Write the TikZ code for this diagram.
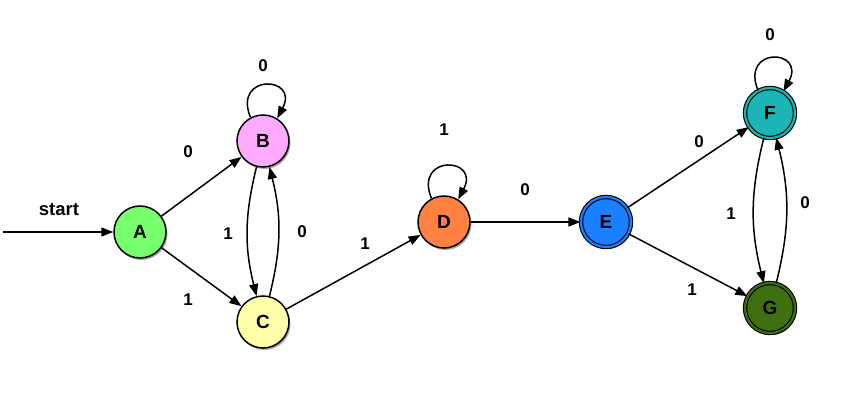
\documentclass[tikz,border=0pt]{standalone}
\usepackage{fontspec}
\setmainfont{Liberation Sans}
\usetikzlibrary{arrows.meta,shadows}
\definecolor{cA}{RGB}{119,255,110}
\definecolor{cB}{RGB}{255,170,255}
\definecolor{cC}{RGB}{255,255,170}
\definecolor{cD}{RGB}{255,128,64}
\definecolor{cE}{RGB}{27,128,255}
\definecolor{cF}{RGB}{27,181,181}
\definecolor{cG}{RGB}{63,111,15}
\begin{document}
\begin{tikzpicture}[x=1pt,y=1pt,
  state/.style={circle,draw=black,line width=1.5pt,minimum size=52pt,inner sep=0pt,
    font=\fontsize{19}{21}\selectfont\bfseries,
    drop shadow={shadow xshift=1.5pt,shadow yshift=-2pt,opacity=0.35,fill=black}},
  accept/.style={state,fill=#1,double=#1,double distance=2.2pt,line width=1.1pt,minimum size=50pt},
  edge/.style={-{Triangle[length=12pt,width=9pt]},line width=1.5pt},
  lbl/.style={font=\fontsize{17}{19}\selectfont\bfseries}]
\useasboundingbox (0,0) rectangle (864,410);
\node[state,fill=cA] (A) at (140,178) {A};
\node[state,fill=cB] (B) at (263,269) {B};
\node[state,fill=cC] (C) at (263,88) {C};
\node[state,fill=cD] (D) at (444,188) {D};
\node[accept=cE] (E) at (606,188) {E};
\node[accept=cF] (F) at (770,297) {F};
\node[accept=cG] (G) at (770,102) {G};
\coordinate (S) at (3,178);
\draw[edge] (S) -- (A);
\draw[edge] (A) -- (B);
\draw[edge] (A) -- (C);
\draw[edge] (B) to[bend right=14] (C);
\draw[edge] (C) to[bend right=14] (B);
\draw[edge] (C) -- (D);
\draw[edge] (D) -- (E);
\draw[edge] (E) -- (F);
\draw[edge] (E) -- (G);
\draw[edge] (F) to[bend right=14] (G);
\draw[edge] (G) to[bend right=14] (F);
\draw[edge] (B.118) .. controls +(112:48) and +(62:48) .. (B.58);
\draw[edge] (D.118) .. controls +(112:48) and +(62:48) .. (D.58);
\draw[edge] (F.118) .. controls +(112:48) and +(62:48) .. (F.58);
\node[lbl,font=\fontsize{18.5}{20}\selectfont\bfseries] (lstart) at (59,200) {start};
\node[lbl] (lAB) at (188,258) {0};
\node[lbl] (lAC) at (188,110) {1};
\node[lbl] (lBC) at (228,176) {1};
\node[lbl] (lCB) at (302,178) {0};
\node[lbl] (lBB) at (263,344) {0};
\node[lbl] (lCD) at (365,166) {1};
\node[lbl] (lDD) at (444,280) {1};
\node[lbl] (lDE) at (525,220) {0};
\node[lbl] (lEF) at (699,268) {0};
\node[lbl] (lEG) at (692,120) {1};
\node[lbl] (lFG) at (731,196) {1};
\node[lbl] (lGF) at (805,207) {0};
\node[lbl] (lFF) at (770,375) {0};
\end{tikzpicture}
\end{document}
